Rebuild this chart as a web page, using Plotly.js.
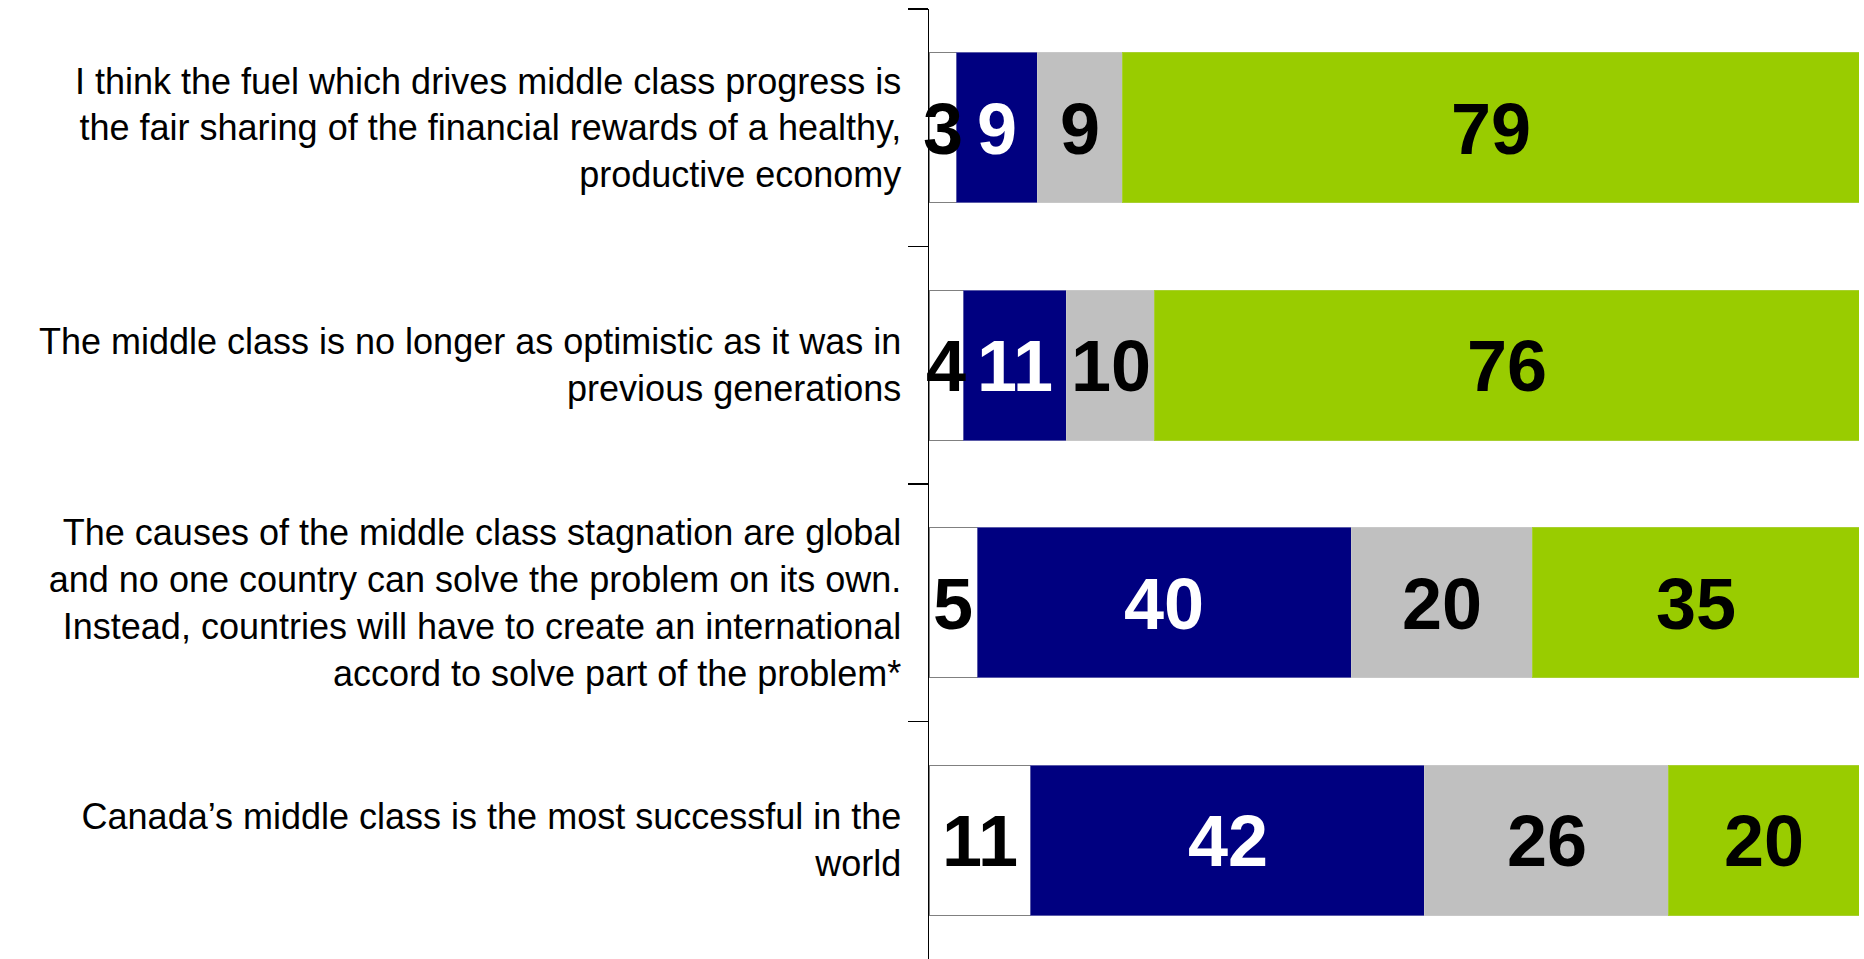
<!DOCTYPE html>
<html>
<head>
<meta charset="utf-8">
<script src="https://cdn.plot.ly/plotly-3.0.1.min.js"></script>
<style>
  html, body { margin: 0; padding: 0; background: #ffffff; }
  #chart { width: 1864px; height: 959px; }
</style>
</head>
<body>
<div id="chart"></div>
<script>
// Statements (top to bottom)
const categories = [
  "I think the fuel which drives middle class progress is<br>the fair sharing of the financial rewards of a healthy,<br>productive economy",
  "The middle class is no longer as optimistic as it was in<br>previous generations",
  "The causes of the middle class stagnation are global<br>and no one country can solve the problem on its own.<br>Instead, countries will have to create an international<br>accord to solve part of the problem*",
  "Canada\u2019s middle class is the most successful in the<br>world"
];

// Segment values
const seriesA = [3.0, 3.7, 5.2, 10.9];    // white
const seriesB = [8.7, 11.1, 40.2, 42.4];  // navy
const seriesC = [9.1, 9.5, 19.5, 26.2];   // grey
const seriesD = [79.2, 75.7, 35.1, 20.5]; // green

// Value labels as printed on the bars
const labelsA = ["3", "4", "5", "11"];
const labelsB = ["9", "11", "40", "42"];
const labelsC = ["9", "10", "20", "26"];
const labelsD = ["79", "76", "35", "20"];

const series = [seriesA, seriesB, seriesC, seriesD];
const labels = [labelsA, labelsB, labelsC, labelsD];
const fills = ["#FFFFFF", "#000080", "#C0C0C0", "#99CC00"];
const edges = ["#808080", "#5a5aa8", "#C8C8C8", "#A8D030"];
const textColors = ["#000000", "#FFFFFF", "#000000", "#000000"];

const traces = [];
series.forEach((vals, i) => {
  traces.push({
    type: "bar",
    orientation: "h",
    y: categories,
    x: vals,
    marker: { color: fills[i], line: { color: edges[i], width: 1 } },
    hoverinfo: "skip",
    showlegend: false
  });
});

// Centered value labels placed through the axis scales
const annotations = [];
const cum = categories.map(() => 0);
series.forEach((vals, i) => {
  vals.forEach((v, k) => {
    const mid = cum[k] + v / 2;
    cum[k] += v;
    annotations.push({
      xref: "x", yref: "y",
      x: mid, y: categories[k],
      text: labels[i][k],
      showarrow: false,
      xanchor: "center", yanchor: "middle",
      yshift: -1,
      font: { family: "Liberation Sans, Arial, sans-serif", size: 72, weight: "bold", color: textColors[i] }
    });
  });
});

const layout = {
  width: 1864,
  height: 959,
  margin: { l: 929, r: 5, t: 9, b: 0, pad: 0 },
  paper_bgcolor: "#FFFFFF",
  plot_bgcolor: "#FFFFFF",
  barmode: "stack",
  bargap: 0.37,
  showlegend: false,
  hovermode: false,
  font: { family: "Liberation Sans, Arial, sans-serif", color: "#000000" },
  annotations: annotations,
  xaxis: {
    range: [0, 100],
    visible: false,
    fixedrange: true
  },
  yaxis: {
    type: "category",
    autorange: false,
    range: [3.5, -0.5],
    showline: true,
    linecolor: "#000000",
    linewidth: 1.5,
    ticks: "outside",
    tickson: "boundaries",
    ticklen: 20,
    tickwidth: 1.5,
    tickcolor: "#000000",
    ticklabelstandoff: 19,
    showgrid: false,
    zeroline: false,
    tickfont: { family: "Liberation Sans, Arial, sans-serif", size: 36, color: "#000000" },
    fixedrange: true
  }
};

Plotly.newPlot("chart", traces, layout, { displayModeBar: false, staticPlot: true });
</script>
</body>
</html>
